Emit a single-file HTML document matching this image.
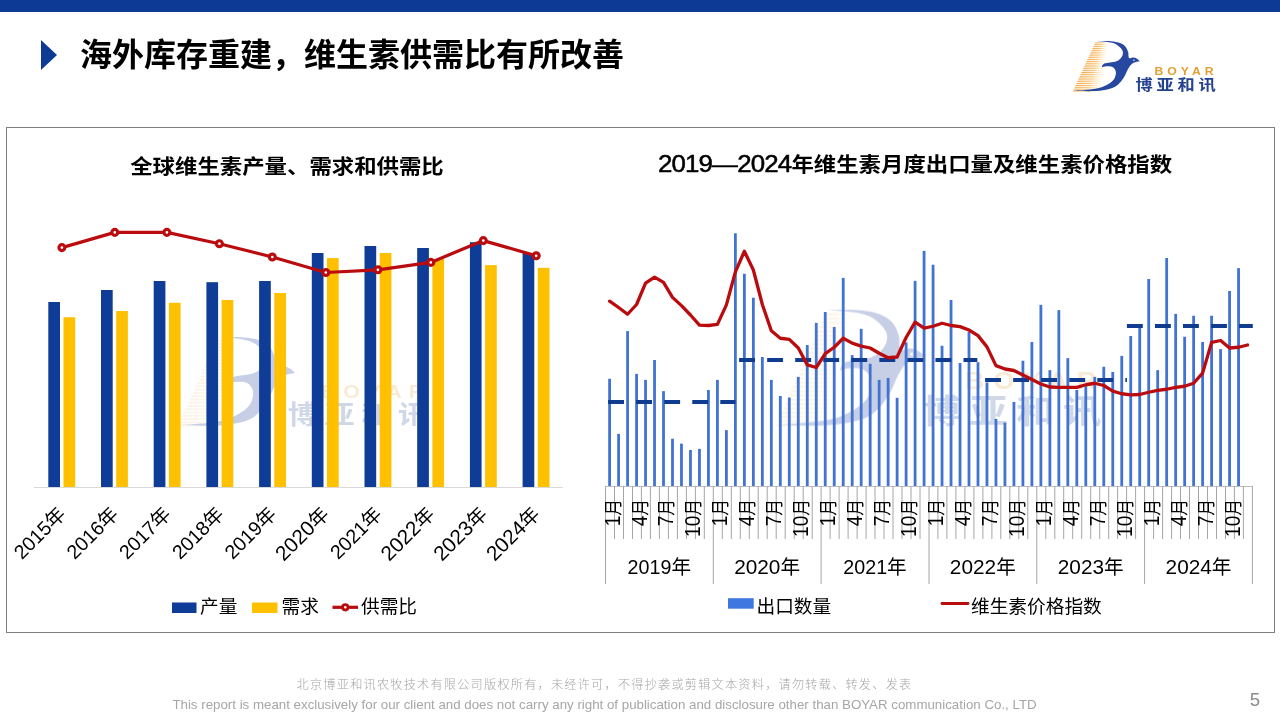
<!DOCTYPE html>
<html lang="zh-CN"><head><meta charset="utf-8"><title>海外库存重建，维生素供需比有所改善</title>
<style>
html,body{margin:0;padding:0;background:#fff;}
body{width:1280px;height:720px;position:relative;overflow:hidden;font-family:"Liberation Sans","Noto Sans CJK SC",sans-serif;color:#000;}
.topbar{position:absolute;left:0;top:0;width:1280px;height:12.4px;background:#0D3A94;}
.tri{position:absolute;left:41px;top:39.7px;width:0;height:0;border-top:15.8px solid transparent;border-bottom:15.8px solid transparent;border-left:16px solid #0D3A94;}
.title{position:absolute;left:80px;top:30.5px;height:48px;line-height:48px;font-size:32px;font-weight:700;white-space:nowrap;letter-spacing:0;}
.box{position:absolute;left:6px;top:127px;width:1267px;height:504px;border:1px solid #7F7F7F;}
.foot{position:absolute;left:0;width:1209px;text-align:center;color:#A6A6A6;white-space:nowrap;}
.f1{top:677px;font-size:12.2px;letter-spacing:1.2px;font-weight:300;line-height:16px;}
.f2{top:696.6px;font-size:13.3px;line-height:16px;}
.pg{position:absolute;left:1240px;top:688px;width:30px;text-align:center;font-size:18.7px;line-height:24px;color:#8C8C8C;}
svg{position:absolute;left:0;top:0;}
svg text{font-family:"Liberation Sans","Noto Sans CJK SC",sans-serif;}
</style></head><body>
<div class="topbar"></div>
<div class="tri"></div>
<div class="title">海外库存重建，维生素供需比有所改善</div>
<div class="box"></div>
<svg width="1280" height="720" viewBox="0 0 1280 720">
<defs>
<linearGradient id="sg" x1="0" y1="0" x2="1" y2="0"><stop offset="0" stop-color="#F0A038" stop-opacity="0.95"/><stop offset="0.5" stop-color="#F5B857" stop-opacity="0.85"/><stop offset="1" stop-color="#FBE0A0" stop-opacity="0"/></linearGradient>
<g id="lstripes" fill="url(#sg)">
<rect x="1095.06" y="42.40" width="13.40" height="1.0"/>
<rect x="1094.22" y="44.25" width="14.00" height="1.0"/>
<rect x="1093.37" y="46.10" width="14.61" height="1.0"/>
<rect x="1092.52" y="47.95" width="15.22" height="1.0"/>
<rect x="1091.68" y="49.80" width="15.82" height="1.0"/>
<rect x="1090.83" y="51.65" width="16.43" height="1.0"/>
<rect x="1089.99" y="53.50" width="17.03" height="1.0"/>
<rect x="1089.14" y="55.35" width="17.64" height="1.0"/>
<rect x="1088.29" y="57.20" width="18.24" height="1.0"/>
<rect x="1087.45" y="59.05" width="18.85" height="1.0"/>
<rect x="1086.60" y="60.90" width="19.45" height="1.0"/>
<rect x="1085.76" y="62.75" width="20.06" height="1.0"/>
<rect x="1084.91" y="64.60" width="20.67" height="1.0"/>
<rect x="1084.06" y="66.45" width="21.27" height="1.0"/>
<rect x="1083.22" y="68.30" width="21.88" height="1.0"/>
<rect x="1082.37" y="70.15" width="22.48" height="1.0"/>
<rect x="1081.52" y="72.00" width="23.09" height="1.0"/>
<rect x="1080.68" y="73.85" width="23.69" height="1.0"/>
<rect x="1079.83" y="75.70" width="24.30" height="1.0"/>
<rect x="1078.99" y="77.55" width="24.91" height="1.0"/>
<rect x="1078.14" y="79.40" width="25.51" height="1.0"/>
<rect x="1077.29" y="81.25" width="26.12" height="1.0"/>
<rect x="1076.45" y="83.10" width="26.72" height="1.0"/>
<rect x="1075.60" y="84.95" width="27.33" height="1.0"/>
<rect x="1074.76" y="86.80" width="27.93" height="1.0"/>
<rect x="1073.91" y="88.65" width="28.54" height="1.0"/>
<rect x="1073.06" y="90.50" width="29.15" height="1.0"/>
</g>
<g id="lbird">
<path fill="#2748A0" d="M1096.20,41.00 C1098.63,41.03 1106.83,40.87 1110.80,41.20 C1114.77,41.53 1117.55,42.08 1120.00,43.00 C1122.45,43.92 1124.13,45.17 1125.50,46.70 C1126.87,48.23 1127.70,50.62 1128.20,52.20 C1128.70,53.78 1128.27,55.18 1128.50,56.20 C1128.73,57.22 1128.73,58.07 1129.60,58.30 C1130.47,58.53 1132.40,57.48 1133.70,57.60 C1135.00,57.72 1136.40,58.38 1137.40,59.00 C1138.40,59.62 1139.32,60.92 1139.70,61.30 C1138.55,61.62 1134.72,61.97 1132.80,63.20 C1130.88,64.43 1129.72,66.27 1128.20,68.70 C1126.68,71.13 1125.68,74.90 1123.70,77.80 C1121.72,80.70 1119.22,84.12 1116.30,86.10 C1113.38,88.08 1110.17,88.87 1106.20,89.70 C1102.23,90.53 1097.83,90.93 1092.50,91.10 C1087.17,91.27 1077.25,90.77 1074.20,90.70 C1077.70,90.38 1089.87,89.72 1095.20,88.80 C1100.53,87.88 1103.13,86.72 1106.20,85.20 C1109.27,83.68 1111.98,81.70 1113.60,79.70 C1115.22,77.70 1115.75,75.03 1115.90,73.20 C1116.05,71.37 1115.35,69.83 1114.50,68.70 C1113.65,67.57 1112.48,66.78 1110.80,66.40 C1109.12,66.02 1105.92,66.25 1104.40,66.40 C1102.88,66.55 1102.15,67.15 1101.70,67.30 C1102.15,66.68 1101.97,64.60 1104.40,63.60 C1106.83,62.60 1113.40,62.45 1116.30,61.30 C1119.20,60.15 1120.73,58.38 1121.80,56.70 C1122.87,55.02 1123.30,53.03 1122.70,51.20 C1122.10,49.37 1120.18,47.15 1118.20,45.70 C1116.22,44.25 1114.47,43.28 1110.80,42.50 C1107.13,41.72 1098.63,41.25 1096.20,41.00 Z"/>
<circle cx="1133.9" cy="60.2" r="0.7" fill="#fff"/>
</g>
<g id="ltext">
<text transform="translate(1154.5,75.3) scale(1.2,1)" font-size="10.2" font-weight="700" fill="#E29F33" letter-spacing="3.35">BOYAR</text>
<text transform="translate(1135.6,90.2) scale(1.19,1)" font-size="14.5" font-weight="700" fill="#24428F" letter-spacing="3.15">博亚和讯</text>
</g>
</defs>
<use href="#lstripes"/><use href="#lbird"/><use href="#ltext"/>
<g opacity="0.26">
<g transform="translate(179.0,336.4) scale(1.750,1.770) translate(-1073.5,-40.6)"><use href="#lstripes" opacity="0.55"/><use href="#lbird"/></g>
<g transform="translate(179.0,336.4) scale(1.750,1.770) translate(-1073.5,-40.6)"><use href="#ltext" opacity="0.82"/></g>
</g>
<g opacity="0.26">
<g transform="translate(777.0,309.0) scale(2.227,2.310) translate(-1073.5,-40.6)"><use href="#lstripes" opacity="0.55"/><use href="#lbird"/></g>
<g transform="translate(784.3,310.0) scale(2.227,2.270) translate(-1073.5,-40.6)"><use href="#ltext" opacity="0.82"/></g>
</g>
<text transform="translate(287,174.2) scale(1.096,1)" font-size="20.45" font-weight="700" text-anchor="middle">全球维生素产量、需求和供需比</text>
<line x1="34" y1="487.5" x2="563" y2="487.5" stroke="#D9D9D9" stroke-width="1"/>
<rect x="48.30" y="302.00" width="11.7" height="185.00" fill="#0F3C96"/>
<rect x="63.50" y="317.20" width="11.7" height="169.80" fill="#FFC000"/>
<rect x="101.00" y="290.00" width="11.7" height="197.00" fill="#0F3C96"/>
<rect x="116.20" y="311.00" width="11.7" height="176.00" fill="#FFC000"/>
<rect x="153.70" y="281.00" width="11.7" height="206.00" fill="#0F3C96"/>
<rect x="168.90" y="302.80" width="11.7" height="184.20" fill="#FFC000"/>
<rect x="206.40" y="282.20" width="11.7" height="204.80" fill="#0F3C96"/>
<rect x="221.60" y="300.00" width="11.7" height="187.00" fill="#FFC000"/>
<rect x="259.10" y="281.00" width="11.7" height="206.00" fill="#0F3C96"/>
<rect x="274.30" y="293.00" width="11.7" height="194.00" fill="#FFC000"/>
<rect x="311.80" y="253.00" width="11.7" height="234.00" fill="#0F3C96"/>
<rect x="327.00" y="258.10" width="11.7" height="228.90" fill="#FFC000"/>
<rect x="364.50" y="246.00" width="11.7" height="241.00" fill="#0F3C96"/>
<rect x="379.70" y="253.00" width="11.7" height="234.00" fill="#FFC000"/>
<rect x="417.20" y="248.00" width="11.7" height="239.00" fill="#0F3C96"/>
<rect x="432.40" y="259.00" width="11.7" height="228.00" fill="#FFC000"/>
<rect x="469.90" y="242.20" width="11.7" height="244.80" fill="#0F3C96"/>
<rect x="485.10" y="265.10" width="11.7" height="221.90" fill="#FFC000"/>
<rect x="522.60" y="253.00" width="11.7" height="234.00" fill="#0F3C96"/>
<rect x="537.80" y="267.80" width="11.7" height="219.20" fill="#FFC000"/>
<polyline fill="none" stroke="#BA0C0F" stroke-width="3.2" stroke-linejoin="round" stroke-linecap="round" points="61.9,247.6 114.8,232.4 166.9,232.4 219.4,243.7 272.3,257.0 325.8,272.5 377.9,269.8 430.8,262.4 483.3,240.6 536.2,255.8"/>
<circle cx="61.9" cy="247.6" r="2.95" fill="#fff" stroke="#BA0C0F" stroke-width="3.2"/>
<circle cx="114.8" cy="232.4" r="2.95" fill="#fff" stroke="#BA0C0F" stroke-width="3.2"/>
<circle cx="166.9" cy="232.4" r="2.95" fill="#fff" stroke="#BA0C0F" stroke-width="3.2"/>
<circle cx="219.4" cy="243.7" r="2.95" fill="#fff" stroke="#BA0C0F" stroke-width="3.2"/>
<circle cx="272.3" cy="257.0" r="2.95" fill="#fff" stroke="#BA0C0F" stroke-width="3.2"/>
<circle cx="325.8" cy="272.5" r="2.95" fill="#fff" stroke="#BA0C0F" stroke-width="3.2"/>
<circle cx="377.9" cy="269.8" r="2.95" fill="#fff" stroke="#BA0C0F" stroke-width="3.2"/>
<circle cx="430.8" cy="262.4" r="2.95" fill="#fff" stroke="#BA0C0F" stroke-width="3.2"/>
<circle cx="483.3" cy="240.6" r="2.95" fill="#fff" stroke="#BA0C0F" stroke-width="3.2"/>
<circle cx="536.2" cy="255.8" r="2.95" fill="#fff" stroke="#BA0C0F" stroke-width="3.2"/>
<text transform="translate(66.8,515.5) rotate(-45)" font-size="19.6" font-weight="400" text-anchor="end"><tspan font-size="19.7">2015</tspan>年</text>
<text transform="translate(119.6,515.5) rotate(-45)" font-size="19.6" font-weight="400" text-anchor="end"><tspan font-size="19.7">2016</tspan>年</text>
<text transform="translate(172.2,515.5) rotate(-45)" font-size="19.6" font-weight="400" text-anchor="end"><tspan font-size="19.7">2017</tspan>年</text>
<text transform="translate(225.0,515.5) rotate(-45)" font-size="19.6" font-weight="400" text-anchor="end"><tspan font-size="19.7">2018</tspan>年</text>
<text transform="translate(277.6,515.5) rotate(-45)" font-size="19.6" font-weight="400" text-anchor="end"><tspan font-size="19.7">2019</tspan>年</text>
<text transform="translate(330.4,515.5) rotate(-45)" font-size="19.6" font-weight="400" text-anchor="end"><tspan font-size="20.8">2020</tspan>年</text>
<text transform="translate(383.1,515.5) rotate(-45)" font-size="19.6" font-weight="400" text-anchor="end"><tspan font-size="19.7">2021</tspan>年</text>
<text transform="translate(435.8,515.5) rotate(-45)" font-size="19.6" font-weight="400" text-anchor="end"><tspan font-size="20.8">2022</tspan>年</text>
<text transform="translate(488.5,515.5) rotate(-45)" font-size="19.6" font-weight="400" text-anchor="end"><tspan font-size="20.8">2023</tspan>年</text>
<text transform="translate(541.2,515.5) rotate(-45)" font-size="19.6" font-weight="400" text-anchor="end"><tspan font-size="20.8">2024</tspan>年</text>
<rect x="172" y="602.5" width="24.5" height="10.5" fill="#0F3C96"/>
<text x="200" y="612.5" font-size="18.7" font-weight="400">产量</text>
<rect x="252" y="602.5" width="25.5" height="10.5" fill="#FFC000"/>
<text x="281.5" y="612.5" font-size="18.7" font-weight="400">需求</text>
<line x1="332.5" y1="607.3" x2="358" y2="607.3" stroke="#BA0C0F" stroke-width="3.2"/>
<circle cx="345.3" cy="607.3" r="2.7" fill="#fff" stroke="#BA0C0F" stroke-width="2.8"/>
<text x="361" y="612.5" font-size="18.7" font-weight="400">供需比</text>
<text transform="translate(915,172.4) scale(1.096,1)" font-size="20.45" font-weight="700" text-anchor="middle"><tspan font-size="23.6" font-weight="400" stroke="#000" stroke-width="0.5" letter-spacing="-0.75">2019—2024</tspan>年维生素月度出口量及维生素价格指数</text>
<rect x="608.20" y="378.75" width="2.8" height="107.25" fill="#4173D3"/>
<rect x="617.19" y="433.87" width="2.8" height="52.13" fill="#4173D3"/>
<rect x="626.17" y="331.12" width="2.8" height="154.88" fill="#4173D3"/>
<rect x="635.16" y="373.87" width="2.8" height="112.13" fill="#4173D3"/>
<rect x="644.14" y="379.87" width="2.8" height="106.13" fill="#4173D3"/>
<rect x="653.12" y="360.00" width="2.8" height="126.00" fill="#4173D3"/>
<rect x="662.11" y="391.12" width="2.8" height="94.88" fill="#4173D3"/>
<rect x="671.10" y="438.75" width="2.8" height="47.25" fill="#4173D3"/>
<rect x="680.08" y="443.62" width="2.8" height="42.38" fill="#4173D3"/>
<rect x="689.07" y="450.00" width="2.8" height="36.00" fill="#4173D3"/>
<rect x="698.05" y="448.87" width="2.8" height="37.13" fill="#4173D3"/>
<rect x="707.04" y="390.00" width="2.8" height="96.00" fill="#4173D3"/>
<rect x="716.02" y="379.87" width="2.8" height="106.13" fill="#4173D3"/>
<rect x="725.00" y="430.12" width="2.8" height="55.88" fill="#4173D3"/>
<rect x="733.99" y="233.25" width="2.8" height="252.75" fill="#4173D3"/>
<rect x="742.98" y="273.75" width="2.8" height="212.25" fill="#4173D3"/>
<rect x="751.96" y="297.75" width="2.8" height="188.25" fill="#4173D3"/>
<rect x="760.95" y="357.00" width="2.8" height="129.00" fill="#4173D3"/>
<rect x="769.93" y="379.87" width="2.8" height="106.13" fill="#4173D3"/>
<rect x="778.91" y="396.00" width="2.8" height="90.00" fill="#4173D3"/>
<rect x="787.90" y="397.50" width="2.8" height="88.50" fill="#4173D3"/>
<rect x="796.88" y="376.87" width="2.8" height="109.13" fill="#4173D3"/>
<rect x="805.87" y="345.00" width="2.8" height="141.00" fill="#4173D3"/>
<rect x="814.86" y="322.87" width="2.8" height="163.13" fill="#4173D3"/>
<rect x="823.84" y="312.00" width="2.8" height="174.00" fill="#4173D3"/>
<rect x="832.83" y="327.00" width="2.8" height="159.00" fill="#4173D3"/>
<rect x="841.81" y="277.87" width="2.8" height="208.13" fill="#4173D3"/>
<rect x="850.80" y="355.12" width="2.8" height="130.88" fill="#4173D3"/>
<rect x="859.78" y="328.87" width="2.8" height="157.13" fill="#4173D3"/>
<rect x="868.77" y="363.75" width="2.8" height="122.25" fill="#4173D3"/>
<rect x="877.75" y="379.87" width="2.8" height="106.13" fill="#4173D3"/>
<rect x="886.74" y="378.00" width="2.8" height="108.00" fill="#4173D3"/>
<rect x="895.72" y="397.87" width="2.8" height="88.13" fill="#4173D3"/>
<rect x="904.71" y="342.37" width="2.8" height="143.63" fill="#4173D3"/>
<rect x="913.69" y="280.87" width="2.8" height="205.13" fill="#4173D3"/>
<rect x="922.67" y="250.87" width="2.8" height="235.13" fill="#4173D3"/>
<rect x="931.66" y="264.75" width="2.8" height="221.25" fill="#4173D3"/>
<rect x="940.64" y="345.75" width="2.8" height="140.25" fill="#4173D3"/>
<rect x="949.63" y="300.00" width="2.8" height="186.00" fill="#4173D3"/>
<rect x="958.62" y="363.00" width="2.8" height="123.00" fill="#4173D3"/>
<rect x="967.60" y="331.87" width="2.8" height="154.13" fill="#4173D3"/>
<rect x="976.59" y="362.25" width="2.8" height="123.75" fill="#4173D3"/>
<rect x="985.57" y="382.50" width="2.8" height="103.50" fill="#4173D3"/>
<rect x="994.56" y="418.87" width="2.8" height="67.13" fill="#4173D3"/>
<rect x="1003.54" y="422.62" width="2.8" height="63.38" fill="#4173D3"/>
<rect x="1012.53" y="402.00" width="2.8" height="84.00" fill="#4173D3"/>
<rect x="1021.51" y="360.75" width="2.8" height="125.25" fill="#4173D3"/>
<rect x="1030.49" y="342.00" width="2.8" height="144.00" fill="#4173D3"/>
<rect x="1039.48" y="304.87" width="2.8" height="181.13" fill="#4173D3"/>
<rect x="1048.47" y="370.12" width="2.8" height="115.88" fill="#4173D3"/>
<rect x="1057.45" y="310.12" width="2.8" height="175.88" fill="#4173D3"/>
<rect x="1066.43" y="358.12" width="2.8" height="127.88" fill="#4173D3"/>
<rect x="1075.42" y="390.00" width="2.8" height="96.00" fill="#4173D3"/>
<rect x="1084.40" y="386.25" width="2.8" height="99.75" fill="#4173D3"/>
<rect x="1093.39" y="376.87" width="2.8" height="109.13" fill="#4173D3"/>
<rect x="1102.38" y="366.75" width="2.8" height="119.25" fill="#4173D3"/>
<rect x="1111.36" y="372.00" width="2.8" height="114.00" fill="#4173D3"/>
<rect x="1120.35" y="355.87" width="2.8" height="130.13" fill="#4173D3"/>
<rect x="1129.33" y="336.00" width="2.8" height="150.00" fill="#4173D3"/>
<rect x="1138.32" y="327.00" width="2.8" height="159.00" fill="#4173D3"/>
<rect x="1147.30" y="279.00" width="2.8" height="207.00" fill="#4173D3"/>
<rect x="1156.28" y="370.12" width="2.8" height="115.88" fill="#4173D3"/>
<rect x="1165.27" y="258.00" width="2.8" height="228.00" fill="#4173D3"/>
<rect x="1174.26" y="313.87" width="2.8" height="172.13" fill="#4173D3"/>
<rect x="1183.24" y="336.75" width="2.8" height="149.25" fill="#4173D3"/>
<rect x="1192.22" y="315.75" width="2.8" height="170.25" fill="#4173D3"/>
<rect x="1201.21" y="342.00" width="2.8" height="144.00" fill="#4173D3"/>
<rect x="1210.20" y="315.75" width="2.8" height="170.25" fill="#4173D3"/>
<rect x="1219.18" y="349.12" width="2.8" height="136.88" fill="#4173D3"/>
<rect x="1228.16" y="291.00" width="2.8" height="195.00" fill="#4173D3"/>
<rect x="1237.15" y="268.12" width="2.8" height="217.88" fill="#4173D3"/>
<line x1="608.1" y1="401.9" x2="735.5" y2="401.9" stroke="#0F3C8F" stroke-width="4" stroke-dasharray="15.9 12.15"/>
<line x1="739.1" y1="360.1" x2="977.3" y2="360.1" stroke="#0F3C8F" stroke-width="4" stroke-dasharray="15.9 12.15"/>
<line x1="985.1" y1="379.9" x2="1127.0" y2="379.9" stroke="#0F3C8F" stroke-width="4" stroke-dasharray="15.9 12.15"/>
<line x1="1126.9" y1="326.0" x2="1252.8" y2="326.0" stroke="#0F3C8F" stroke-width="4" stroke-dasharray="15.9 12.15"/>
<polyline fill="none" stroke="#BA0C0F" stroke-width="3.3" stroke-linejoin="round" stroke-linecap="round" points="609.60,301.12 618.59,307.50 627.57,314.25 636.56,304.50 645.54,283.12 654.52,277.12 663.51,282.37 672.50,297.37 681.48,305.62 690.47,315.00 699.45,325.12 708.44,325.50 717.42,324.37 726.40,304.87 735.39,271.87 744.38,251.25 753.36,270.00 762.35,304.50 771.33,330.75 780.32,338.25 789.30,339.37 798.29,348.00 807.27,364.87 816.25,367.50 825.24,353.62 834.23,347.25 843.21,338.25 852.19,343.12 861.18,346.12 870.16,348.00 879.15,353.25 888.13,357.75 897.12,357.00 906.11,337.50 915.09,322.12 924.08,328.12 933.06,326.25 942.05,323.25 951.03,325.50 960.01,326.62 969.00,330.00 977.99,335.62 986.97,346.87 995.95,365.62 1004.94,369.00 1013.92,370.50 1022.91,375.00 1031.89,379.50 1040.88,384.00 1049.87,387.00 1058.85,387.37 1067.84,387.37 1076.82,387.37 1085.81,384.75 1094.79,383.25 1103.78,385.50 1112.76,391.12 1121.74,393.75 1130.73,394.87 1139.72,394.50 1148.70,392.25 1157.68,390.37 1166.67,389.25 1175.65,387.37 1184.64,386.25 1193.62,383.25 1202.61,373.12 1211.60,342.37 1220.58,340.50 1229.57,348.00 1238.55,347.25 1247.53,345.00"/>
<line x1="605" y1="486.5" x2="1253" y2="486.5" stroke="#BFBFBF" stroke-width="1"/>
<line x1="605.5" y1="486" x2="605.5" y2="584" stroke="#A6A6A6" stroke-width="1"/>
<line x1="614.5" y1="486" x2="614.5" y2="539" stroke="#A6A6A6" stroke-width="1"/>
<line x1="623.5" y1="486" x2="623.5" y2="539" stroke="#A6A6A6" stroke-width="1"/>
<line x1="632.5" y1="486" x2="632.5" y2="539" stroke="#A6A6A6" stroke-width="1"/>
<line x1="641.4" y1="486" x2="641.4" y2="539" stroke="#A6A6A6" stroke-width="1"/>
<line x1="650.4" y1="486" x2="650.4" y2="539" stroke="#A6A6A6" stroke-width="1"/>
<line x1="659.4" y1="486" x2="659.4" y2="539" stroke="#A6A6A6" stroke-width="1"/>
<line x1="668.4" y1="486" x2="668.4" y2="539" stroke="#A6A6A6" stroke-width="1"/>
<line x1="677.4" y1="486" x2="677.4" y2="539" stroke="#A6A6A6" stroke-width="1"/>
<line x1="686.4" y1="486" x2="686.4" y2="539" stroke="#A6A6A6" stroke-width="1"/>
<line x1="695.4" y1="486" x2="695.4" y2="539" stroke="#A6A6A6" stroke-width="1"/>
<line x1="704.3" y1="486" x2="704.3" y2="539" stroke="#A6A6A6" stroke-width="1"/>
<line x1="713.3" y1="486" x2="713.3" y2="584" stroke="#A6A6A6" stroke-width="1"/>
<line x1="722.3" y1="486" x2="722.3" y2="539" stroke="#A6A6A6" stroke-width="1"/>
<line x1="731.3" y1="486" x2="731.3" y2="539" stroke="#A6A6A6" stroke-width="1"/>
<line x1="740.3" y1="486" x2="740.3" y2="539" stroke="#A6A6A6" stroke-width="1"/>
<line x1="749.3" y1="486" x2="749.3" y2="539" stroke="#A6A6A6" stroke-width="1"/>
<line x1="758.2" y1="486" x2="758.2" y2="539" stroke="#A6A6A6" stroke-width="1"/>
<line x1="767.2" y1="486" x2="767.2" y2="539" stroke="#A6A6A6" stroke-width="1"/>
<line x1="776.2" y1="486" x2="776.2" y2="539" stroke="#A6A6A6" stroke-width="1"/>
<line x1="785.2" y1="486" x2="785.2" y2="539" stroke="#A6A6A6" stroke-width="1"/>
<line x1="794.2" y1="486" x2="794.2" y2="539" stroke="#A6A6A6" stroke-width="1"/>
<line x1="803.2" y1="486" x2="803.2" y2="539" stroke="#A6A6A6" stroke-width="1"/>
<line x1="812.2" y1="486" x2="812.2" y2="539" stroke="#A6A6A6" stroke-width="1"/>
<line x1="821.1" y1="486" x2="821.1" y2="584" stroke="#A6A6A6" stroke-width="1"/>
<line x1="830.1" y1="486" x2="830.1" y2="539" stroke="#A6A6A6" stroke-width="1"/>
<line x1="839.1" y1="486" x2="839.1" y2="539" stroke="#A6A6A6" stroke-width="1"/>
<line x1="848.1" y1="486" x2="848.1" y2="539" stroke="#A6A6A6" stroke-width="1"/>
<line x1="857.1" y1="486" x2="857.1" y2="539" stroke="#A6A6A6" stroke-width="1"/>
<line x1="866.1" y1="486" x2="866.1" y2="539" stroke="#A6A6A6" stroke-width="1"/>
<line x1="875.0" y1="486" x2="875.0" y2="539" stroke="#A6A6A6" stroke-width="1"/>
<line x1="884.0" y1="486" x2="884.0" y2="539" stroke="#A6A6A6" stroke-width="1"/>
<line x1="893.0" y1="486" x2="893.0" y2="539" stroke="#A6A6A6" stroke-width="1"/>
<line x1="902.0" y1="486" x2="902.0" y2="539" stroke="#A6A6A6" stroke-width="1"/>
<line x1="911.0" y1="486" x2="911.0" y2="539" stroke="#A6A6A6" stroke-width="1"/>
<line x1="920.0" y1="486" x2="920.0" y2="539" stroke="#A6A6A6" stroke-width="1"/>
<line x1="929.0" y1="486" x2="929.0" y2="584" stroke="#A6A6A6" stroke-width="1"/>
<line x1="937.9" y1="486" x2="937.9" y2="539" stroke="#A6A6A6" stroke-width="1"/>
<line x1="946.9" y1="486" x2="946.9" y2="539" stroke="#A6A6A6" stroke-width="1"/>
<line x1="955.9" y1="486" x2="955.9" y2="539" stroke="#A6A6A6" stroke-width="1"/>
<line x1="964.9" y1="486" x2="964.9" y2="539" stroke="#A6A6A6" stroke-width="1"/>
<line x1="973.9" y1="486" x2="973.9" y2="539" stroke="#A6A6A6" stroke-width="1"/>
<line x1="982.9" y1="486" x2="982.9" y2="539" stroke="#A6A6A6" stroke-width="1"/>
<line x1="991.9" y1="486" x2="991.9" y2="539" stroke="#A6A6A6" stroke-width="1"/>
<line x1="1000.8" y1="486" x2="1000.8" y2="539" stroke="#A6A6A6" stroke-width="1"/>
<line x1="1009.8" y1="486" x2="1009.8" y2="539" stroke="#A6A6A6" stroke-width="1"/>
<line x1="1018.8" y1="486" x2="1018.8" y2="539" stroke="#A6A6A6" stroke-width="1"/>
<line x1="1027.8" y1="486" x2="1027.8" y2="539" stroke="#A6A6A6" stroke-width="1"/>
<line x1="1036.8" y1="486" x2="1036.8" y2="584" stroke="#A6A6A6" stroke-width="1"/>
<line x1="1045.8" y1="486" x2="1045.8" y2="539" stroke="#A6A6A6" stroke-width="1"/>
<line x1="1054.8" y1="486" x2="1054.8" y2="539" stroke="#A6A6A6" stroke-width="1"/>
<line x1="1063.7" y1="486" x2="1063.7" y2="539" stroke="#A6A6A6" stroke-width="1"/>
<line x1="1072.7" y1="486" x2="1072.7" y2="539" stroke="#A6A6A6" stroke-width="1"/>
<line x1="1081.7" y1="486" x2="1081.7" y2="539" stroke="#A6A6A6" stroke-width="1"/>
<line x1="1090.7" y1="486" x2="1090.7" y2="539" stroke="#A6A6A6" stroke-width="1"/>
<line x1="1099.7" y1="486" x2="1099.7" y2="539" stroke="#A6A6A6" stroke-width="1"/>
<line x1="1108.7" y1="486" x2="1108.7" y2="539" stroke="#A6A6A6" stroke-width="1"/>
<line x1="1117.6" y1="486" x2="1117.6" y2="539" stroke="#A6A6A6" stroke-width="1"/>
<line x1="1126.6" y1="486" x2="1126.6" y2="539" stroke="#A6A6A6" stroke-width="1"/>
<line x1="1135.6" y1="486" x2="1135.6" y2="539" stroke="#A6A6A6" stroke-width="1"/>
<line x1="1144.6" y1="486" x2="1144.6" y2="584" stroke="#A6A6A6" stroke-width="1"/>
<line x1="1153.6" y1="486" x2="1153.6" y2="539" stroke="#A6A6A6" stroke-width="1"/>
<line x1="1162.6" y1="486" x2="1162.6" y2="539" stroke="#A6A6A6" stroke-width="1"/>
<line x1="1171.6" y1="486" x2="1171.6" y2="539" stroke="#A6A6A6" stroke-width="1"/>
<line x1="1180.5" y1="486" x2="1180.5" y2="539" stroke="#A6A6A6" stroke-width="1"/>
<line x1="1189.5" y1="486" x2="1189.5" y2="539" stroke="#A6A6A6" stroke-width="1"/>
<line x1="1198.5" y1="486" x2="1198.5" y2="539" stroke="#A6A6A6" stroke-width="1"/>
<line x1="1207.5" y1="486" x2="1207.5" y2="539" stroke="#A6A6A6" stroke-width="1"/>
<line x1="1216.5" y1="486" x2="1216.5" y2="539" stroke="#A6A6A6" stroke-width="1"/>
<line x1="1225.5" y1="486" x2="1225.5" y2="539" stroke="#A6A6A6" stroke-width="1"/>
<line x1="1234.4" y1="486" x2="1234.4" y2="539" stroke="#A6A6A6" stroke-width="1"/>
<line x1="1243.4" y1="486" x2="1243.4" y2="539" stroke="#A6A6A6" stroke-width="1"/>
<line x1="1252.4" y1="486" x2="1252.4" y2="584" stroke="#A6A6A6" stroke-width="1"/>
<text transform="translate(619.5,499.0) rotate(-90) scale(0.895,1)" font-size="18.67" font-weight="400" text-anchor="end"><tspan font-size="21.3">1</tspan>月</text>
<text transform="translate(646.5,499.0) rotate(-90) scale(0.895,1)" font-size="18.67" font-weight="400" text-anchor="end"><tspan font-size="21.3">4</tspan>月</text>
<text transform="translate(673.4,499.0) rotate(-90) scale(0.895,1)" font-size="18.67" font-weight="400" text-anchor="end"><tspan font-size="21.3">7</tspan>月</text>
<text transform="translate(700.4,499.0) rotate(-90) scale(0.895,1)" font-size="18.67" font-weight="400" text-anchor="end"><tspan font-size="21.3">10</tspan>月</text>
<text x="659.3" y="573.8" font-size="19.6" font-weight="400" text-anchor="middle"><tspan font-size="19.7">2019</tspan>年</text>
<text transform="translate(727.3,499.0) rotate(-90) scale(0.895,1)" font-size="18.67" font-weight="400" text-anchor="end"><tspan font-size="21.3">1</tspan>月</text>
<text transform="translate(754.3,499.0) rotate(-90) scale(0.895,1)" font-size="18.67" font-weight="400" text-anchor="end"><tspan font-size="21.3">4</tspan>月</text>
<text transform="translate(781.2,499.0) rotate(-90) scale(0.895,1)" font-size="18.67" font-weight="400" text-anchor="end"><tspan font-size="21.3">7</tspan>月</text>
<text transform="translate(808.2,499.0) rotate(-90) scale(0.895,1)" font-size="18.67" font-weight="400" text-anchor="end"><tspan font-size="21.3">10</tspan>月</text>
<text x="767.1" y="573.8" font-size="19.6" font-weight="400" text-anchor="middle"><tspan font-size="20.8">2020</tspan>年</text>
<text transform="translate(835.1,499.0) rotate(-90) scale(0.895,1)" font-size="18.67" font-weight="400" text-anchor="end"><tspan font-size="21.3">1</tspan>月</text>
<text transform="translate(862.1,499.0) rotate(-90) scale(0.895,1)" font-size="18.67" font-weight="400" text-anchor="end"><tspan font-size="21.3">4</tspan>月</text>
<text transform="translate(889.0,499.0) rotate(-90) scale(0.895,1)" font-size="18.67" font-weight="400" text-anchor="end"><tspan font-size="21.3">7</tspan>月</text>
<text transform="translate(916.0,499.0) rotate(-90) scale(0.895,1)" font-size="18.67" font-weight="400" text-anchor="end"><tspan font-size="21.3">10</tspan>月</text>
<text x="875.0" y="573.8" font-size="19.6" font-weight="400" text-anchor="middle"><tspan font-size="19.7">2021</tspan>年</text>
<text transform="translate(943.0,499.0) rotate(-90) scale(0.895,1)" font-size="18.67" font-weight="400" text-anchor="end"><tspan font-size="21.3">1</tspan>月</text>
<text transform="translate(969.9,499.0) rotate(-90) scale(0.895,1)" font-size="18.67" font-weight="400" text-anchor="end"><tspan font-size="21.3">4</tspan>月</text>
<text transform="translate(996.9,499.0) rotate(-90) scale(0.895,1)" font-size="18.67" font-weight="400" text-anchor="end"><tspan font-size="21.3">7</tspan>月</text>
<text transform="translate(1023.8,499.0) rotate(-90) scale(0.895,1)" font-size="18.67" font-weight="400" text-anchor="end"><tspan font-size="21.3">10</tspan>月</text>
<text x="982.8" y="573.8" font-size="19.6" font-weight="400" text-anchor="middle"><tspan font-size="20.8">2022</tspan>年</text>
<text transform="translate(1050.8,499.0) rotate(-90) scale(0.895,1)" font-size="18.67" font-weight="400" text-anchor="end"><tspan font-size="21.3">1</tspan>月</text>
<text transform="translate(1077.7,499.0) rotate(-90) scale(0.895,1)" font-size="18.67" font-weight="400" text-anchor="end"><tspan font-size="21.3">4</tspan>月</text>
<text transform="translate(1104.7,499.0) rotate(-90) scale(0.895,1)" font-size="18.67" font-weight="400" text-anchor="end"><tspan font-size="21.3">7</tspan>月</text>
<text transform="translate(1131.6,499.0) rotate(-90) scale(0.895,1)" font-size="18.67" font-weight="400" text-anchor="end"><tspan font-size="21.3">10</tspan>月</text>
<text x="1090.7" y="573.8" font-size="19.6" font-weight="400" text-anchor="middle"><tspan font-size="20.8">2023</tspan>年</text>
<text transform="translate(1158.6,499.0) rotate(-90) scale(0.895,1)" font-size="18.67" font-weight="400" text-anchor="end"><tspan font-size="21.3">1</tspan>月</text>
<text transform="translate(1185.6,499.0) rotate(-90) scale(0.895,1)" font-size="18.67" font-weight="400" text-anchor="end"><tspan font-size="21.3">4</tspan>月</text>
<text transform="translate(1212.5,499.0) rotate(-90) scale(0.895,1)" font-size="18.67" font-weight="400" text-anchor="end"><tspan font-size="21.3">7</tspan>月</text>
<text transform="translate(1239.5,499.0) rotate(-90) scale(0.895,1)" font-size="18.67" font-weight="400" text-anchor="end"><tspan font-size="21.3">10</tspan>月</text>
<text x="1198.5" y="573.8" font-size="19.6" font-weight="400" text-anchor="middle"><tspan font-size="20.8">2024</tspan>年</text>
<rect x="728" y="598.2" width="25.7" height="10.5" fill="#3F77E0"/>
<text x="756.5" y="613" font-size="18.7" font-weight="400">出口数量</text>
<line x1="942" y1="603.5" x2="968" y2="603.5" stroke="#BA0C0F" stroke-width="2.9" stroke-linecap="round"/>
<text x="971" y="613" font-size="18.7" font-weight="400">维生素价格指数</text>
</svg>
<div class="foot f1">北京博亚和讯农牧技术有限公司版权所有，未经许可，不得抄袭或剪辑文本资料，请勿转载、转发、发表</div>
<div class="foot f2">This report is meant exclusively for our client and does not carry any right of publication and disclosure other than BOYAR communication Co., LTD</div>
<div class="pg">5</div>
</body></html>
